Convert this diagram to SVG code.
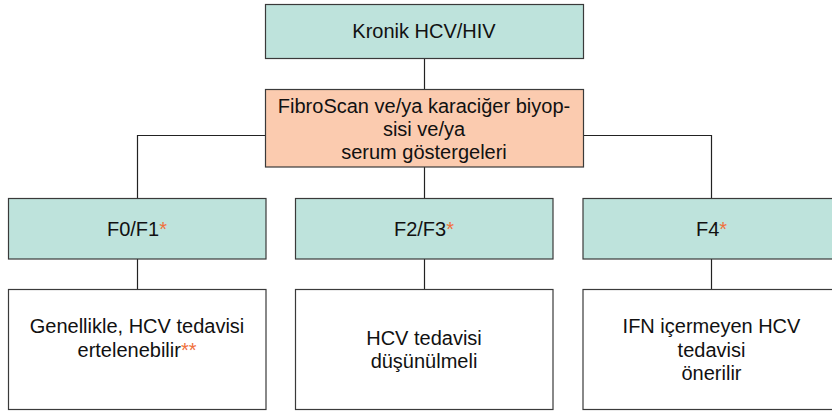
<svg xmlns="http://www.w3.org/2000/svg" width="832" height="414" viewBox="0 0 832 414">
  <style>
    .box { stroke: #3a3a3a; stroke-width: 1.2; }
    .teal { fill: #bee3dc; }
    .peach { fill: #fbcbaf; }
    .plain { fill: #ffffff; }
    .lbl { font-family: "Liberation Sans", Arial, sans-serif; font-size: 20px; fill: #111111; text-anchor: middle; }
    .star { fill: #f0703c; }
    .wire { fill: none; stroke: #222222; stroke-width: 1.2; }
  </style>
  <rect width="832" height="414" fill="#ffffff"/>

  <!-- connectors -->
  <g id="connectors">
    <path class="wire" d="M424.5 58.5 V89.5"/>
    <path class="wire" d="M265.5 135.5 H137.5 V198.5"/>
    <path class="wire" d="M583.5 135.5 H711.5 V198.5"/>
    <path class="wire" d="M424.5 167 V198.5"/>
    <path class="wire" d="M137.5 259 V289.5"/>
    <path class="wire" d="M424.5 259 V289.5"/>
    <path class="wire" d="M711.5 259 V289.5"/>
  </g>

  <g id="root">
    <rect class="box teal" x="265.5" y="4.5" width="318" height="54"/>
    <text class="lbl" x="424" y="38">Kronik HCV/HIV</text>
  </g>

  <g id="assessment">
    <rect class="box peach" x="265.5" y="89.5" width="318" height="77.5"/>
    <text class="lbl" x="424" y="113">FibroScan ve/ya karaciğer biyop-</text>
    <text class="lbl" x="424" y="136">sisi ve/ya</text>
    <text class="lbl" x="424" y="159">serum göstergeleri</text>
  </g>

  <g id="stage-f0f1">
    <rect class="box teal" x="8.5" y="198.5" width="257.5" height="60.5"/>
    <text class="lbl" x="137" y="236">F0/F1<tspan class="star">*</tspan></text>
  </g>

  <g id="stage-f2f3">
    <rect class="box teal" x="295.5" y="198.5" width="257.5" height="60.5"/>
    <text class="lbl" x="424" y="236">F2/F3<tspan class="star">*</tspan></text>
  </g>

  <g id="stage-f4">
    <rect class="box teal" x="583" y="198.5" width="258" height="60.5"/>
    <text class="lbl" x="711.5" y="236">F4<tspan class="star">*</tspan></text>
  </g>

  <g id="advice-f0f1">
    <rect class="box plain" x="8.5" y="289.5" width="257.5" height="120"/>
    <text class="lbl" x="137" y="333">Genellikle, HCV tedavisi</text>
    <text class="lbl" x="137" y="356.5">ertelenebilir<tspan class="star">**</tspan></text>
  </g>

  <g id="advice-f2f3">
    <rect class="box plain" x="295.5" y="289.5" width="257.5" height="120"/>
    <text class="lbl" x="424" y="345">HCV tedavisi</text>
    <text class="lbl" x="424" y="368">düşünülmeli</text>
  </g>

  <g id="advice-f4">
    <rect class="box plain" x="583" y="289.5" width="258" height="120"/>
    <text class="lbl" x="711.5" y="333">IFN içermeyen HCV</text>
    <text class="lbl" x="711.5" y="356.5">tedavisi</text>
    <text class="lbl" x="711.5" y="380">önerilir</text>
  </g>
</svg>
